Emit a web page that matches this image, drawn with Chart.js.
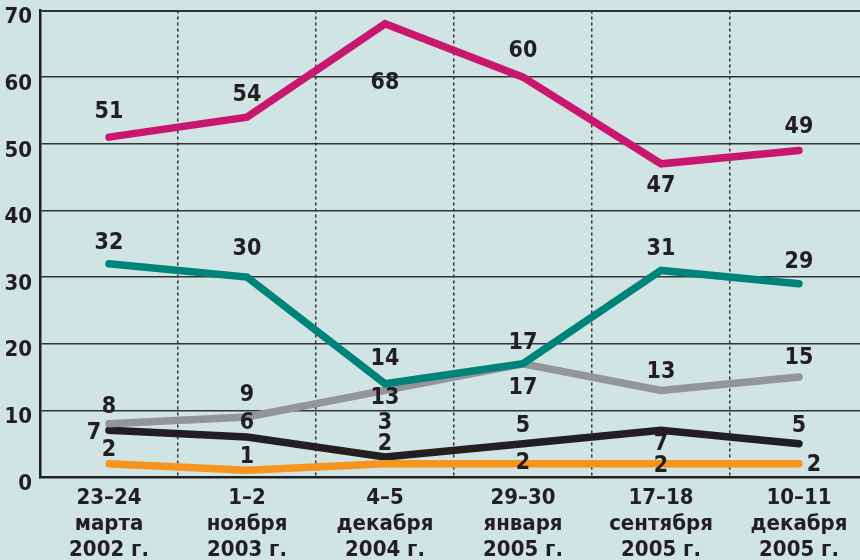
<!DOCTYPE html>
<html>
<head>
<meta charset="utf-8">
<script src="https://cdn.jsdelivr.net/npm/chart.js@4"></script>
<style>
  html, body { margin: 0; padding: 0; background: #cfe4e3; overflow: hidden; }
  #wrap { width: 860px; height: 560px; overflow: hidden; }
  canvas { display: block; }
</style>
</head>
<body>
<div id="wrap"><canvas id="chart" width="868" height="560"></canvas></div>
<script>
// Даты опросов
const dates = [
    ['23–24', 'марта', '2002 г.'],
    ['1–2', 'ноября', '2003 г.'],
    ['4–5', 'декабря', '2004 г.'],
    ['29–30', 'января', '2005 г.'],
    ['17–18', 'сентября', '2005 г.'],
    ['10–11', 'декабря', '2005 г.']
];

// Значения серий (%)
const magentaValues = [51, 54, 68, 60, 47, 49];
const tealValues = [32, 30, 14, 17, 31, 29];
const grayValues = [8, 9, 13, 17, 13, 15];
const blackValues = [7, 6, 3, 5, 7, 5];
const orangeValues = [2, 1, 2, 2, 2, 2];

const yTicks = [0, 10, 20, 30, 40, 50, 60, 70];

const FONT = '"Liberation Sans Narrow", "DejaVu Sans Condensed", "Roboto Condensed", sans-serif';
const INK = '#231f20';

// Label placement relative to the point (style only)
const shiftMagenta = [[0, -26], [0, -23], [0, 58], [0, -27], [0, 21], [0, -24]];
const shiftTeal = [[0, -22], [0, -29], [0, -26], [0, -22], [0, -22], [0, -23]];
const shiftGray = [[0, -18], [0, -23], [0, 7], [0, 23], [0, -19], [0, -20]];
const shiftBlack = [[-15, 2], [0, -15], [0, -35], [0, -19], [0, 13], [0, -19]];
const shiftOrange = [[0, -15], [0, -14], [0, -21], [0, -2], [0, 1], [15, 0]];

function line(values, color, shift) {
    return {
        data: values,
        borderColor: color,
        backgroundColor: color,
        borderWidth: 7.5,
        borderCapStyle: 'round',
        borderJoinStyle: 'miter',
        pointRadius: 0,
        tension: 0,
        labelShift: shift
    };
}

// Value labels next to each point
const valueLabels = {
    id: 'valueLabels',
    afterDatasetsDraw(chart) {
        const ctx = chart.ctx;
        ctx.save();
        ctx.font = 'bold 23px ' + FONT;
        ctx.fillStyle = INK;
        ctx.textAlign = 'center';
        ctx.textBaseline = 'middle';
        chart.data.datasets.forEach((ds, i) => {
            const meta = chart.getDatasetMeta(i);
            meta.data.forEach((pt, j) => {
                const s = ds.labelShift[j];
                ctx.fillText(String(ds.data[j]), pt.x + s[0], pt.y + s[1] + 1);
            });
        });
        ctx.restore();
    }
};

new Chart(document.getElementById('chart'), {
    type: 'line',
    data: {
        labels: dates,
        datasets: [
            line(orangeValues, '#f7941d', shiftOrange),
            line(tealValues, '#00847a', shiftTeal),
            line(magentaValues, '#c9176f', shiftMagenta),
            line(grayValues, '#939598', shiftGray),
            line(blackValues, INK, shiftBlack)
        ]
    },
    options: {
        responsive: false,
        animation: false,
        devicePixelRatio: 1,
        layout: { padding: { top: 10.5, right: 0, left: 0, bottom: 0 } },
        plugins: {
            legend: { display: false },
            tooltip: { enabled: false }
        },
        scales: {
            x: {
                offset: true,
                grid: {
                    offset: true,
                    drawTicks: false,
                    color: '#333',
                    lineWidth: 1.5
                },
                border: { display: true, color: INK, width: 2.5, dash: [3, 3] },
                ticks: {
                    color: INK,
                    font: { family: FONT, size: 22, weight: 'bold', lineHeight: 1.18 },
                    padding: 8,
                    maxRotation: 0,
                    autoSkip: false
                },
                afterFit(scale) {
                    scale.height = 83;
                    scale.paddingLeft = 0;
                    scale.paddingRight = 0;
                }
            },
            y: {
                min: 0,
                max: 70,
                afterBuildTicks(scale) { scale.ticks = yTicks.map(v => ({ value: v })); },
                grid: {
                    drawTicks: false,
                    color: '#333',
                    lineWidth: ctx => (ctx.tick && ctx.tick.value === 70 ? 2 : 1.5)
                },
                border: { display: true, color: INK, width: 2.5 },
                ticks: {
                    color: INK,
                    font: { family: FONT, size: 22, weight: 'bold' },
                    padding: 8,
                    labelOffset: 7
                },
                afterFit(scale) {
                    scale.width = 40;
                    scale.paddingTop = 0;
                    scale.paddingBottom = 0;
                }
            }
        }
    },
    plugins: [valueLabels]
});
</script>
</body>
</html>
